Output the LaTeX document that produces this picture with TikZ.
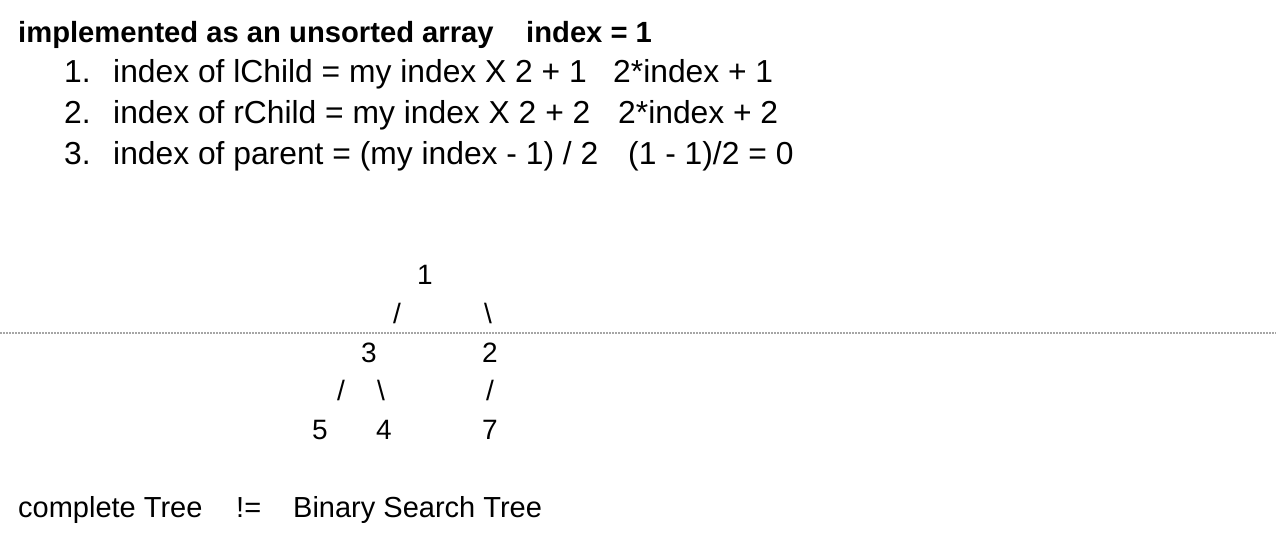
\documentclass[tikz,border=0pt]{standalone}
\usepackage{fontspec}
\setmainfont{Liberation Sans}
\begin{document}
\begin{tikzpicture}[x=1pt,y=-1pt,
  txt/.style={anchor=base west,inner sep=0pt,font=\fontsize{29}{34}\selectfont},
  ltxt/.style={anchor=base west,inner sep=0pt,font=\fontsize{31.8}{38}\selectfont},
  btxt/.style={anchor=base west,inner sep=0pt,font=\fontsize{29.2}{34}\selectfont\bfseries},
  tr/.style={anchor=base,inner sep=0pt,font=\fontsize{28}{34}\selectfont}]
\useasboundingbox (0,0) rectangle (1276,542);
\draw[gray!70,line width=1.2pt,dash pattern=on 1.5pt off 1.5pt] (0,333) -- (1276,333);
\node[btxt] (t1) at (18,42) {implemented as an unsorted array};
\node[btxt] (t2) at (526,42) {index = 1};
\node[ltxt] (n1) at (64,82) {1.};
\node[ltxt] (l1) at (113,82) {index of lChild = my index X 2 + 1};
\node[ltxt] (r1) at (613,82) {2*index + 1};
\node[ltxt] (n2) at (64,123) {2.};
\node[ltxt] (l2) at (113,123) {index of rChild = my index X 2 + 2};
\node[ltxt] (r2) at (618,123) {2*index + 2};
\node[ltxt] (n3) at (64,164) {3.};
\node[ltxt] (l3) at (113,164) {index of parent = (my index - 1) / 2};
\node[ltxt] (r3) at (628,164) {(1 - 1)/2 = 0};
\node[tr] (a1) at (425,284) {1};
\node[tr] (s1) at (397,323) {/};
\node[tr] (b1) at (488,323) {\textbackslash};
\node[tr] (a3) at (369,362) {3};
\node[tr] (a2) at (490,362) {2};
\node[tr] (s2) at (341,400) {/};
\node[tr] (b2) at (381,400) {\textbackslash};
\node[tr] (s3) at (490,400) {/};
\node[tr] (a5) at (320,439) {5};
\node[tr] (a4) at (384,439) {4};
\node[tr] (a7) at (490,439) {7};
\node[txt] (c1) at (18,517) {complete Tree};
\node[txt] (c2) at (236,517) {!=};
\node[txt] (c3) at (293,517) {Binary Search Tree};
\end{tikzpicture}
\end{document}
